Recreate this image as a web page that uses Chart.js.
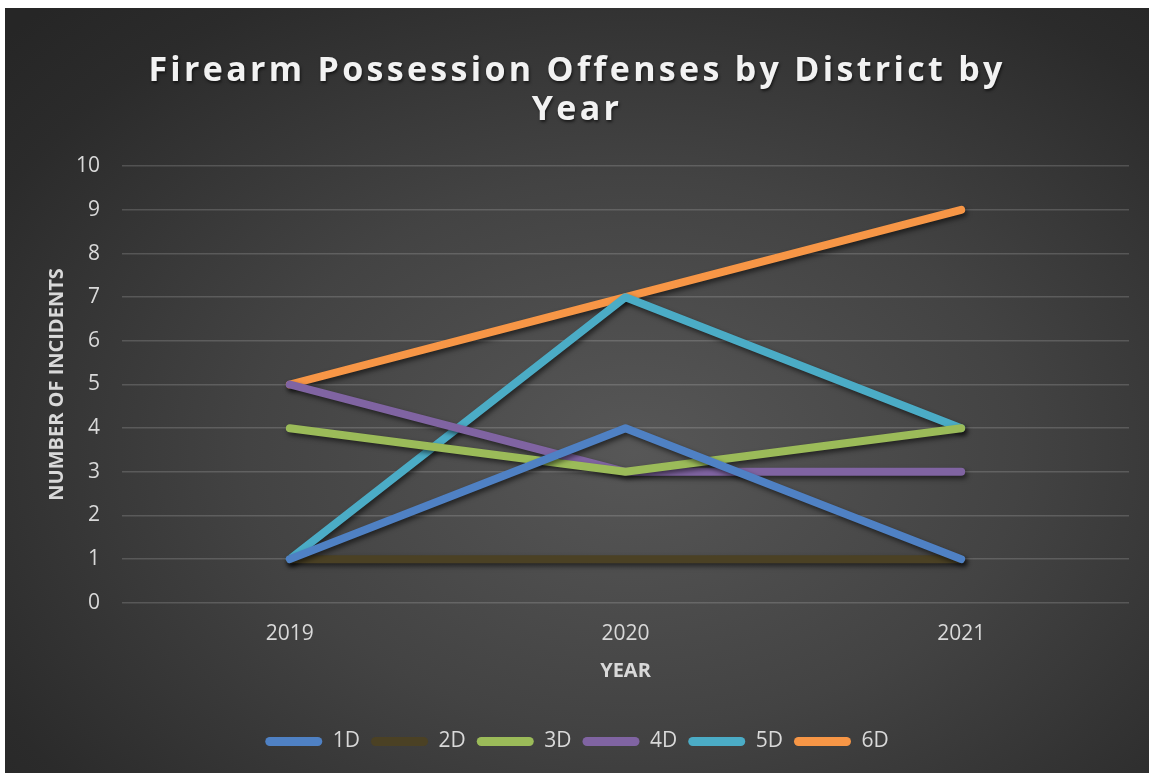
<!DOCTYPE html>
<html>
<head>
<meta charset="utf-8">
<script src="https://cdn.jsdelivr.net/npm/chart.js@4/dist/chart.umd.min.js"></script>
<style>
  html, body { margin: 0; padding: 0; background: #fff; }
  .wrap {
    position: absolute;
    left: 5px; top: 8px;
    width: 1144px; height: 765px;
    background: radial-gradient(ellipse 75% 80% at 55% 58%, #575757 0%, #434343 45%, #2b2b2b 85%, #262626 100%);
  }
</style>
</head>
<body>
<div class="wrap"><canvas id="chart"></canvas></div>
<script>
const years = ['2019', '2020', '2021'];
const d1 = [1, 4, 1];
const d2 = [1, 1, 1];
const d3 = [4, 3, 4];
const d4 = [5, 3, 3];
const d5 = [1, 7, 4];
const d6 = [5, 7, 9];
const seriesNames = ['1D', '2D', '3D', '4D', '5D', '6D'];
const seriesColors = ['#4f81c4', '#4b4124', '#9bbb59', '#8064a2', '#4bacc6', '#f79646'];
const yTicks = [0, 1, 2, 3, 4, 5, 6, 7, 8, 9, 10];

const FONT = '"Open Sans", "DejaVu Sans", sans-serif';
const textColor = '#d9d9d9';

// soft drop shadow under the lines, like the Excel style
const lineShadow = {
  id: 'lineShadow',
  beforeDatasetsDraw(chart) {
    const ctx = chart.ctx;
    ctx.save();
    ctx.shadowColor = 'rgba(0,0,0,0.55)';
    ctx.shadowBlur = 5;
    ctx.shadowOffsetX = 2;
    ctx.shadowOffsetY = 3;
  },
  afterDatasetsDraw(chart) {
    chart.ctx.restore();
  }
};

// title gets wide letter spacing and a small shadow
const titleStyle = {
  id: 'titleStyle',
  beforeDraw(chart) {
    const tb = chart.titleBlock;
    if (!tb || tb._styled) return;
    const orig = tb.draw.bind(tb);
    tb.draw = function () {
      const ctx = chart.ctx;
      ctx.save();
      ctx.letterSpacing = '3.3px';
      ctx.shadowColor = 'rgba(0,0,0,0.6)';
      ctx.shadowBlur = 3;
      ctx.shadowOffsetX = 1;
      ctx.shadowOffsetY = 2;
      orig();
      ctx.restore();
    };
    tb._styled = true;
  }
};

const allData = [d1, d2, d3, d4, d5, d6];
const datasets = allData.map((vals, i) => ({
  label: seriesNames[i],
  data: vals,
  borderColor: seriesColors[i],
  backgroundColor: seriesColors[i],
  borderWidth: 8,
  borderCapStyle: 'round',
  borderJoinStyle: 'round',
  pointRadius: 0,
  pointHoverRadius: 0,
  tension: 0,
  fill: false
}));

new Chart(document.getElementById('chart'), {
  type: 'line',
  data: { labels: years, datasets },
  plugins: [lineShadow, titleStyle],
  options: {
    responsive: true,
    maintainAspectRatio: false,
    animation: false,
    layout: { padding: { left: 20, right: 20, top: 0, bottom: 11 } },
    plugins: {
      title: {
        display: true,
        text: ['Firearm Possession Offenses by District by', 'Year'],
        color: '#f2f2f2',
        font: { family: FONT, size: 34, weight: 'bold', lineHeight: 1.15 },
        padding: { top: 44, bottom: 36 }
      },
      legend: {
        position: 'bottom',
        labels: {
          color: textColor,
          font: { family: FONT, size: 21 },
          boxWidth: 57,
          boxHeight: 9,
          padding: 11,
          useBorderRadius: true,
          borderRadius: 4.5,
          generateLabels(chart) {
            return chart.data.datasets.map((ds, i) => ({
              text: ds.label,
              fillStyle: ds.borderColor,
              strokeStyle: ds.borderColor,
              lineWidth: 0,
              fontColor: textColor,
              borderRadius: 4.5,
              datasetIndex: i
            }));
          }
        }
      },
      tooltip: { enabled: false }
    },
    scales: {
      x: {
        type: 'category',
        offset: true,
        grid: { display: false, drawTicks: false },
        border: { display: false },
        ticks: { color: textColor, font: { family: FONT, size: 21 }, padding: 19 },
        title: {
          display: true,
          text: 'YEAR',
          color: textColor,
          font: { family: FONT, size: 20, weight: 'bold' },
          padding: { top: -7, bottom: 37 }
        }
      },
      y: {
        min: 0,
        max: 10,
        afterBuildTicks(scale) {
          scale.ticks = yTicks.map(v => ({ value: v }));
        },
        afterFit(scale) {
          scale.width = 97;
        },
        grid: { color: 'rgba(255,255,255,0.16)', lineWidth: 1.5, drawTicks: false },
        border: { display: false },
        ticks: { color: textColor, font: { family: FONT, size: 21 }, padding: 22 },
        title: {
          display: true,
          text: 'NUMBER OF INCIDENTS',
          color: textColor,
          font: { family: FONT, size: 20, weight: 'bold' },
          padding: { top: 20, bottom: 7 }
        }
      }
    }
  }
});
</script>
</body>
</html>
